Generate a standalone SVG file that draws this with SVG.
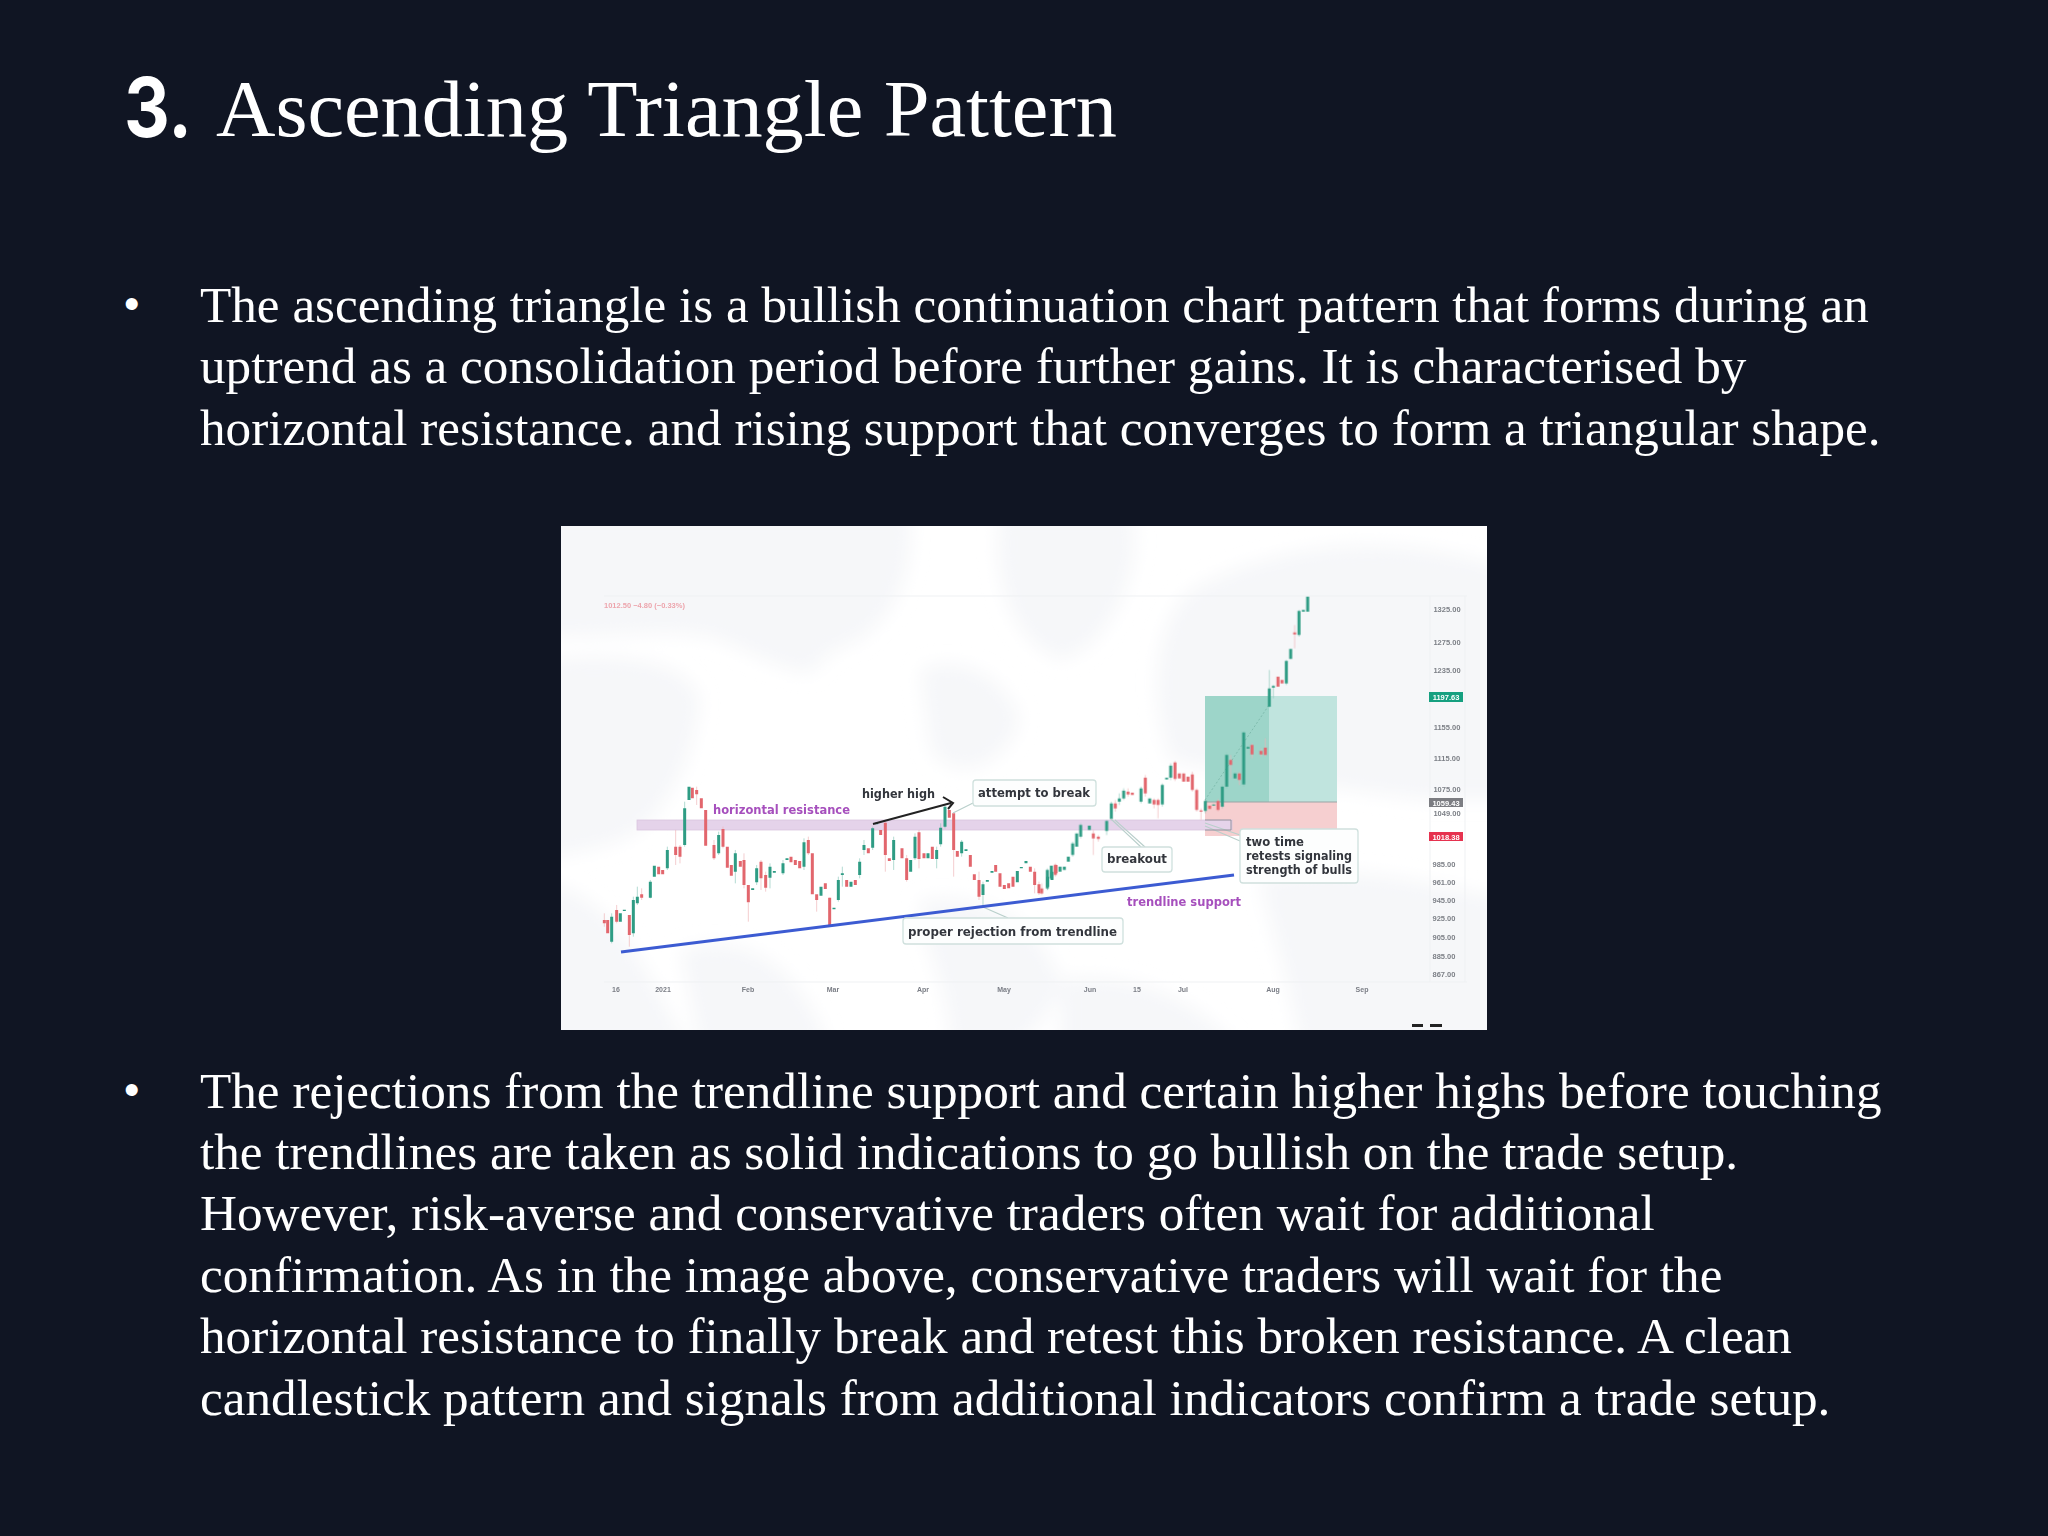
<svg xmlns="http://www.w3.org/2000/svg" width="2048" height="1536" viewBox="0 0 2048 1536">
<defs>
<filter id="soft" x="-5%" y="-5%" width="110%" height="110%"><feGaussianBlur stdDeviation="9"/></filter>
<filter id="fine" x="-5%" y="-5%" width="110%" height="110%"><feGaussianBlur stdDeviation="0.55"/></filter>
<filter id="tiny" x="-5%" y="-5%" width="110%" height="110%"><feGaussianBlur stdDeviation="0.4"/></filter>
<clipPath id="img"><rect x="561" y="526" width="926" height="504"/></clipPath>
</defs>
<style>
.h{font-family:"Liberation Serif",serif;fill:#fff;font-size:80px}
.n{font-family:"Inter","Lato",sans-serif;font-weight:700;fill:#fff;font-size:82px}
.b{font-family:"Liberation Serif",serif;fill:#fff;font-size:51.200px}
.bu{font-family:"Liberation Sans",sans-serif;fill:#fff;font-size:44px}
.lb{font-family:"DejaVu Sans",sans-serif;font-weight:700;font-size:13px;fill:#33363c}
.pu{fill:#a650bd}
.box{fill:#fdfefe;stroke:#cfe0dd;stroke-width:1.3}
.lead{fill:none;stroke:#b9cfcb;stroke-width:1.2}
.ax{font-family:"Liberation Sans",sans-serif;font-size:7px;fill:#7a7d85;text-anchor:middle;font-weight:700}
.pr{font-family:"Liberation Sans",sans-serif;font-size:7.5px;fill:#7d8087;text-anchor:middle;font-weight:700}
.pw{font-family:"Liberation Sans",sans-serif;font-size:7.5px;fill:#fff;text-anchor:middle;font-weight:700}
.gb{fill:none;stroke:#2f9c84;stroke-width:9}
.rb{fill:none;stroke:#e2666d;stroke-width:9}
.gw{fill:none;stroke:#8cc9bb;stroke-width:2}
.rw{fill:none;stroke:#efb4b6;stroke-width:2}
</style>
<rect width="2048" height="1536" fill="#101523"/>
<g id="title">
<text class="n" x="124" y="137" textLength="68" lengthAdjust="spacingAndGlyphs">3.</text>
<text class="h" x="216" y="136" textLength="901" lengthAdjust="spacingAndGlyphs">Ascending Triangle Pattern</text>
</g>
<g id="bullet-1">
<text class="bu" x="124" y="319">•</text>
<text class="b" x="200" y="322">The ascending triangle is a bullish continuation chart pattern that forms during an</text>
<text class="b" x="200" y="383">uptrend as a consolidation period before further gains. It is characterised by</text>
<text class="b" x="200" y="445">horizontal resistance. and rising support that converges to form a triangular shape.</text>
</g>
<g id="chart">
<rect x="561" y="526" width="926" height="504" fill="#fff"/>
<g clip-path="url(#img)">
<g id="map" fill="#f6f7f9" filter="url(#soft)">
<path d="M540 510H770C770 570 790 610 820 670C780 680 740 640 700 636C650 630 600 640 540 636Z"/>
<path d="M710 510H910C915 570 900 610 860 640C830 650 810 670 800 675C780 630 745 570 710 510Z"/>
<path d="M540 660C620 650 690 660 700 700C695 750 680 790 640 830C610 850 580 850 540 860Z"/>
<path d="M540 880C620 900 640 960 690 1050H540Z"/>
<path d="M680 950C740 930 800 960 830 1050H700Z"/>
<path d="M920 670C960 650 1010 680 1020 720C1010 760 960 790 930 750Z"/>
<path d="M1000 510H1130C1150 560 1110 650 1060 660C1010 640 990 580 1000 510Z"/>
<path d="M1190 590C1280 540 1400 530 1510 570V800H1420C1350 790 1250 780 1170 760C1150 700 1150 630 1190 590Z"/>
<path d="M1260 880C1340 860 1420 880 1510 900V1050H1300C1290 980 1270 930 1260 880Z"/>
<path d="M920 900C980 890 1040 920 1060 980C1060 1000 1040 1030 1010 1050H950C950 980 920 950 920 900Z"/>
<path d="M1060 980C1120 970 1190 990 1240 1050H1060Z"/>
</g>
</g>
<path d="M604 596H1467M604 982H1467M1430 596V982M1465 596V982" fill="none" stroke="#eff1f3" stroke-width="1"/>
<text x="604" y="608" font-family="Liberation Sans,sans-serif" font-size="7.500" font-weight="700" fill="#eda5ad" filter="url(#fine)">1012.50 −4.80 (−0.33%)</text>
<g id="position" filter="url(#tiny)">
<rect x="1205" y="696" width="64" height="106" fill="#9dd5c9"/>
<rect x="1269" y="696" width="68" height="106" fill="#c0e4de"/>
<rect x="1205" y="802" width="132" height="34" fill="#f6cfd0"/>
<path d="M1205 802H1337" stroke="#9aa5a5" stroke-width="1"/>
<path d="M1205 800L1269 705" stroke="#7fbcae" stroke-width="1" stroke-dasharray="2 2"/>
</g>
<rect id="resistance-band" x="637" y="820" width="595" height="10" fill="#e5d3ea" stroke="#d9c6df" stroke-width="0.8"/>
<g id="candles" filter="url(#tiny)">
<g transform="translate(560 525) scale(.33333)">
<path class="rw" d="M133 1165V1205M170 1140V1195M208 1230V1265M245 1090V1125M347 915V1020M360 960V1015M410 785V840M462 945V1005M489 905V970M552 985V1090M565 1132V1190M603 1005V1095M617 1040V1100M745 935V990M770 1125V1160M809 1118V1200M976 885V1040M1040 990V1070M1077 915V1030M1181 865V1055M1257 1040V1125M1424 1030V1105M1437 1070V1110"/>
<path class="gw" d="M155 1165V1255M220 1115V1235M232 1085V1140M271 1065V1120M322 965V1035M374 830V965M476 920V990M526 975V1075M590 1020V1080M630 1015V1090M669 1005V1050M732 940V1035M835 1055V1130M847 1025V1085M899 1000V1060M912 945V990M938 905V975M1001 935V1035M1065 925V1005M1130 965V1030M1142 895V965M1155 840V910M1205 945V995M1269 1070V1145M1463 1045V1095"/>
<path class="rb" d="M133 1185V1195M143 1185V1225M170 1155V1190M208 1170V1230M245 1108V1118M296 1025V1048M308 1035V1048M347 965V990M360 965V995M397 788V820M410 795V808M424 820V850M437 855V962M462 960V1000M489 912V965M502 965V1028M514 1020V1052M541 1008V1025M552 1005V1080M565 1080V1132M603 1010V1060M617 1050V1088M693 995V1012M706 1005V1020M719 1008V1030M745 945V985M757 985V1108M770 1108V1125M796 1075V1092M809 1118V1200M860 1065V1085M886 1065V1080M925 970V985M962 915V930M976 893V990M988 1000V1008M1026 970V1000M1040 1000V1065M1077 922V1002M1092 985V1000M1117 965V1002M1168 855V878M1181 865V975M1192 978V995M1231 990V1025M1243 1048V1065M1257 1065V1115M1307 1020V1040M1320 1045V1085M1333 1080V1092M1346 1075V1090M1359 1055V1085M1411 1025V1040M1424 1040V1080M1437 1078V1105M1488 1020V1045"/>
<path class="gb" d="M155 1175V1250M181 1165V1190M193 1154V1158M220 1125V1225M232 1115V1135M271 1070V1118M283 1022V1055M322 975V1030M374 850V960M387 785V825M476 930V985M526 985V1040M578 1090V1095M590 1030V1072M630 1025V1058M643 1038V1043M669 1015V1045M681 1000V1005M732 952V1025M783 1085V1112M822 1148V1153M835 1065V1125M847 1045V1050M873 1070V1085M899 1010V1050M912 960V975M938 910V968M950 893V898M1001 945V1005M1052 1005V1040M1065 935V1000M1104 985V1000M1130 975V1002M1142 908V958M1155 845V905M1205 950V985M1218 973V978M1269 1078V1110M1282 1065V1070M1296 1038V1043M1372 1038V1072M1384 1026V1030M1398 1008V1015M1463 1055V1085M1476 1040V1065"/>
</g>
<g transform="translate(1040 525) scale(.33333)">
<path class="rw" d="M5 1075V1110M46 1015V1055M160 915V990M175 930V950M226 825V860M264 790V815M316 750V815M342 820V850M354 820V880M405 708V768M457 740V800M470 790V860M483 850V885M534 822V860M572 690V760M598 740V780M636 655V700M663 670V695M676 640V695M764 300V370"/>
<path class="gw" d="M22 1030V1095M98 950V995M122 895V940M200 885V930M214 830V885M238 805V840M251 790V825M303 785V835M367 775V845M392 715V765M496 825V865M547 780V850M560 685V790M611 620V785M688 435V548M700 480V520M739 405V480M777 255V335"/>
<path class="rb" d="M5 1090V1105M46 1020V1050M160 925V940M175 935V942M226 835V850M264 800V808M277 803V810M316 758V805M342 825V838M354 825V840M405 712V762M418 745V760M431 745V770M444 755V770M457 748V795M470 795V855M483 856V860M509 842V852M534 828V855M572 705V720M598 745V765M636 660V688M663 678V688M676 668V690M714 455V485M726 465V475M764 322V328"/>
<path class="gb" d="M22 1035V1090M34 1022V1060M60 1025V1040M73 1025V1035M85 995V1010M98 955V990M110 925V965M122 900V935M148 902V915M200 888V918M214 835V882M238 820V830M251 797V820M303 790V830M329 820V835M367 780V838M380 758V763M392 722V758M496 828V858M521 838V842M547 785V845M560 690V785M585 745V760M611 622V778M624 666V671M688 490V545M700 483V488M739 408V475M752 372V402M777 258V330M790 255V260M803 215V260"/>
</g>
</g>
<g id="connectors">
<path class="lead" d="M953 813L973 803M983 907L1008 918M1111 819L1141 847M1115 820L1145 847M1205 823L1240 835M1205 826L1240 841"/>
<path d="M1205 820H1231V830H1205" fill="none" stroke="#8f8f95" stroke-width="0.9"/>
<path d="M621 952L1234 875" fill="none" stroke="#3c5bd2" stroke-width="3"/>
<path d="M873 824L951 803M943 797L953 803L948 809" fill="none" stroke="#222" stroke-width="2"/>
</g>
<g filter="url(#tiny)">
<text id="lbl-resistance" class="lb pu" x="713" y="814" textLength="137" lengthAdjust="spacingAndGlyphs">horizontal resistance</text>
<text id="lbl-higher" class="lb" x="862" y="798" textLength="73" lengthAdjust="spacingAndGlyphs">higher high</text>
<text id="lbl-support" class="lb pu" x="1127" y="906" textLength="114" lengthAdjust="spacingAndGlyphs">trendline support</text>
<g id="lbl-attempt"><rect class="box" x="973" y="780" width="123" height="26" rx="3"/><text class="lb" x="978" y="797" textLength="112" lengthAdjust="spacingAndGlyphs">attempt to break</text></g>
<g id="lbl-proper"><rect class="box" x="903" y="918" width="220" height="26" rx="3"/><text class="lb" x="908" y="936" textLength="209" lengthAdjust="spacingAndGlyphs">proper rejection from trendline</text></g>
<g id="lbl-breakout"><rect class="box" x="1102" y="847" width="70" height="25" rx="3"/><text class="lb" x="1107" y="863" textLength="60" lengthAdjust="spacingAndGlyphs">breakout</text></g>
<g id="lbl-retests"><rect class="box" x="1240" y="829" width="118" height="54" rx="3"/>
<text class="lb" x="1246" y="846" textLength="58" lengthAdjust="spacingAndGlyphs">two time</text>
<text class="lb" x="1246" y="860" textLength="106" lengthAdjust="spacingAndGlyphs">retests signaling</text>
<text class="lb" x="1246" y="874" textLength="106" lengthAdjust="spacingAndGlyphs">strength of bulls</text></g>
</g>
<g id="axis" filter="url(#fine)">
<text class="ax" x="616" y="992">16</text><text class="ax" x="663" y="992">2021</text><text class="ax" x="748" y="992">Feb</text><text class="ax" x="833" y="992">Mar</text><text class="ax" x="923" y="992">Apr</text><text class="ax" x="1004" y="992">May</text><text class="ax" x="1090" y="992">Jun</text><text class="ax" x="1137" y="992">15</text><text class="ax" x="1183" y="992">Jul</text><text class="ax" x="1273" y="992">Aug</text><text class="ax" x="1362" y="992">Sep</text>
<text class="pr" x="1447" y="612">1325.00</text><text class="pr" x="1447" y="645">1275.00</text><text class="pr" x="1447" y="673">1235.00</text>
<rect x="1429" y="692" width="34" height="10" fill="#17a080"/><text class="pw" x="1446" y="700">1197.63</text>
<text class="pr" x="1447" y="730">1155.00</text><text class="pr" x="1447" y="761">1115.00</text><text class="pr" x="1447" y="792">1075.00</text>
<rect x="1429" y="798" width="34" height="9" fill="#7b7d82"/><text class="pw" x="1446" y="805.500">1059.43</text>
<text class="pr" x="1447" y="816">1049.00</text>
<rect x="1429" y="832" width="34" height="9" fill="#e6324f"/><text class="pw" x="1446" y="839.500">1018.38</text>
<text class="pr" x="1444" y="867">985.00</text><text class="pr" x="1444" y="885">961.00</text><text class="pr" x="1444" y="903">945.00</text><text class="pr" x="1444" y="921">925.00</text><text class="pr" x="1444" y="940">905.00</text><text class="pr" x="1444" y="959">885.00</text><text class="pr" x="1444" y="977">867.00</text>
</g>
<path d="M1412 1025.500H1423M1430 1025.500H1442" stroke="#222" stroke-width="3"/>
</g>
<g id="bullet-2">
<text class="bu" x="124" y="1105">•</text>
<text class="b" x="200" y="1108">The rejections from the trendline support and certain higher highs before touching</text>
<text class="b" x="200" y="1169">the trendlines are taken as solid indications to go bullish on the trade setup.</text>
<text class="b" x="200" y="1230">However, risk-averse and conservative traders often wait for additional</text>
<text class="b" x="200" y="1292">confirmation. As in the image above, conservative traders will wait for the</text>
<text class="b" x="200" y="1353">horizontal resistance to finally break and retest this broken resistance. A clean</text>
<text class="b" x="200" y="1415">candlestick pattern and signals from additional indicators confirm a trade setup.</text>
</g>
</svg>
